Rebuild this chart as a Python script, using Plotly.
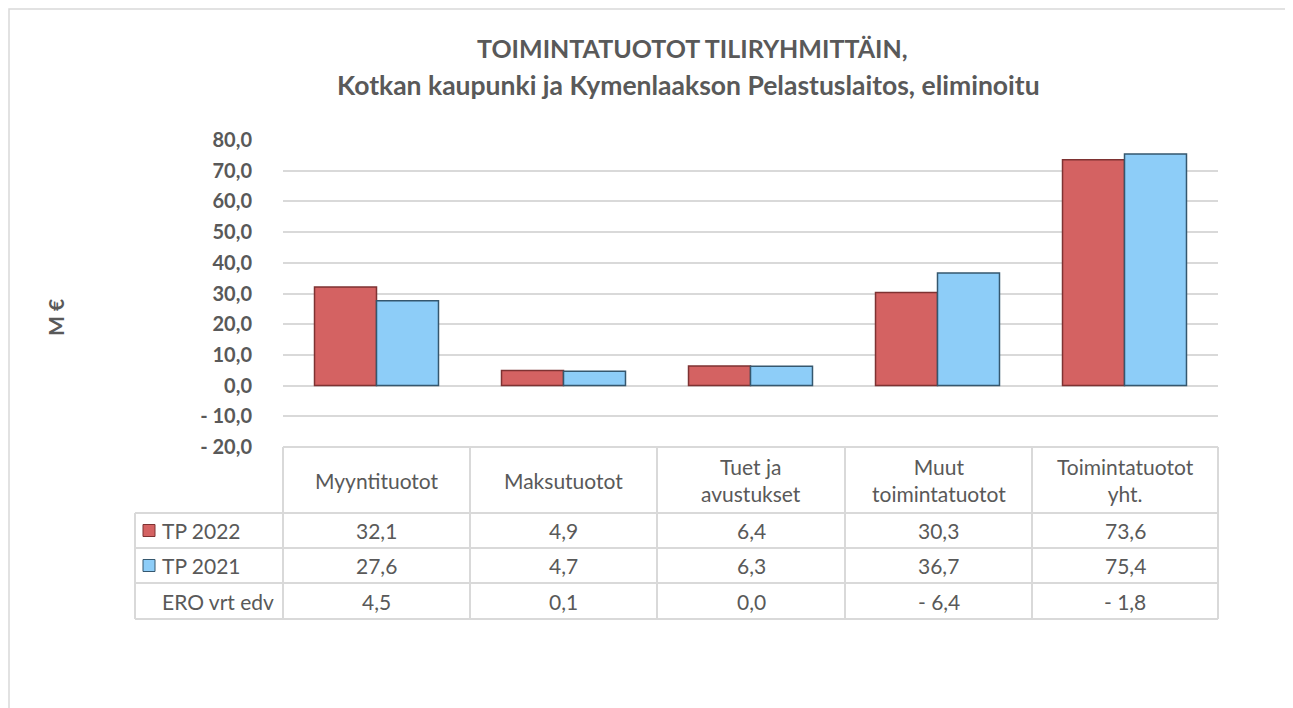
import plotly.graph_objects as go

categories = ["Myyntituotot", "Maksutuotot", "Tuet ja<br>avustukset",
              "Muut<br>toimintatuotot", "Toimintatuotot<br>yht."]
tp2022 = [32.1, 4.9, 6.4, 30.3, 73.6]
tp2021 = [27.6, 4.7, 6.3, 36.7, 75.4]
ero = [4.5, 0.1, 0.0, -6.4, -1.8]
series_names = ["TP 2022", "TP 2021", "ERO vrt edv"]
y_ticks = [-20, -10, 0, 10, 20, 30, 40, 50, 60, 70, 80]
title_lines = ["TOIMINTATUOTOT TILIRYHMITTÄIN,",
               "Kotkan kaupunki ja Kymenlaakson Pelastuslaitos, eliminoitu"]

RED, RED_EDGE = "#D46262", "#7E3232"
BLUE, BLUE_EDGE = "#8DCDF8", "#35576E"
GRID = "#D9D9D9"
TXT = "#595959"
FONT = "Lato, Open Sans, sans-serif"

# page has an 8px body margin, so the figure is drawn 8px smaller
OFF = 8
W, H = 1293 - OFF, 708 - OFF
# plot area in screenshot pixels
L, R, T, B = 283, 1218, 140, 447


def px_x(p):
    return (p - L) / (R - L)


def px_y(p):
    return (B - p) / (B - T)


def fmt(v):
    s = f"{abs(v):.1f}".replace(".", ",")
    return ("- " + s) if v < 0 else s


x = list(range(len(categories)))

fig = go.Figure()
fig.add_trace(go.Bar(x=x, y=tp2022, name=series_names[0],
                     marker=dict(color=RED, line=dict(color=RED_EDGE, width=1.5))))
fig.add_trace(go.Bar(x=x, y=tp2021, name=series_names[1],
                     marker=dict(color=BLUE, line=dict(color=BLUE_EDGE, width=1.5))))

shapes = []
ann = []

# outer chart border
shapes.append(dict(type="rect", xref="paper", yref="paper",
                   x0=px_x(9), x1=px_x(1290), y0=px_y(715), y1=px_y(9),
                   line=dict(color=GRID, width=1.5)))

# data table grid
col_edges = [283, 470, 657, 845, 1032, 1218]
row_edges = [447, 513, 548, 583, 619]
line = dict(color=GRID, width=2)
shapes.append(dict(type="line", xref="paper", yref="paper",
                   x0=px_x(283), x1=px_x(1218), y0=px_y(447), y1=px_y(447), line=line))
for r in row_edges[1:]:
    shapes.append(dict(type="line", xref="paper", yref="paper",
                       x0=px_x(135), x1=px_x(1218), y0=px_y(r), y1=px_y(r), line=line))
for c in col_edges:
    shapes.append(dict(type="line", xref="paper", yref="paper",
                       x0=px_x(c), x1=px_x(c), y0=px_y(447), y1=px_y(619), line=line))
shapes.append(dict(type="line", xref="paper", yref="paper",
                   x0=px_x(135), x1=px_x(135), y0=px_y(513), y1=px_y(619), line=line))

# legend keys in table
for i, (col, edge) in enumerate([(RED, RED_EDGE), (BLUE, BLUE_EDGE)]):
    cy = (row_edges[i + 1] + row_edges[i + 2]) / 2
    shapes.append(dict(type="rect", xref="paper", yref="paper",
                       x0=px_x(143), x1=px_x(155), y0=px_y(cy + 6), y1=px_y(cy - 6),
                       fillcolor=col, line=dict(color=edge, width=1)))

tfont = dict(family=FONT, size=21, color=TXT)


def note(px, py, text, font, xanchor="center", **kw):
    ann.append(dict(x=px_x(px), y=px_y(py), xref="paper", yref="paper",
                    text=text, showarrow=False, font=font,
                    xanchor=xanchor, yanchor="middle", **kw))


# header row
for i, cat in enumerate(categories):
    cx = (col_edges[i] + col_edges[i + 1]) / 2
    note(cx, 480, cat, tfont, align="center")
# data rows
rows = [tp2022, tp2021, ero]
for r, vals in enumerate(rows):
    cy = (row_edges[r + 1] + row_edges[r + 2]) / 2
    note(160, cy, series_names[r], tfont, xanchor="left")
    for i, v in enumerate(vals):
        cx = (col_edges[i] + col_edges[i + 1]) / 2
        note(cx, cy, fmt(v), tfont)

# title
note(692, 48, title_lines[0], dict(family=FONT, size=25, color=TXT, weight="bold"))
note(688, 85, title_lines[1], dict(family=FONT, size=26.5, color=TXT, weight="bold"))
# y title
note(55, 318, "M €", dict(family=FONT, size=21, color=TXT, weight="bold"),
     textangle=-90)

fig.update_layout(
    width=W, height=H,
    margin=dict(l=L - OFF, r=W - (R - OFF), t=T - OFF, b=H - (B - OFF)),
    paper_bgcolor="white", plot_bgcolor="white",
    showlegend=False,
    barmode="group", bargap=0.337, bargroupgap=0,
    shapes=shapes, annotations=ann,
    xaxis=dict(range=[-0.5, len(categories) - 0.5], showticklabels=False,
               showgrid=False, zeroline=False, showline=False, ticks=""),
    yaxis=dict(range=[-20, 80], tickvals=y_ticks, ticktext=[fmt(v) for v in y_ticks],
               showgrid=True, gridcolor=GRID, gridwidth=1.5,
               zeroline=True, zerolinecolor=GRID, zerolinewidth=1.5,
               showline=False, ticklabelstandoff=30,
               tickfont=dict(family=FONT, size=20, color=TXT, weight="bold")),
)

fig.write_html("out.html")
